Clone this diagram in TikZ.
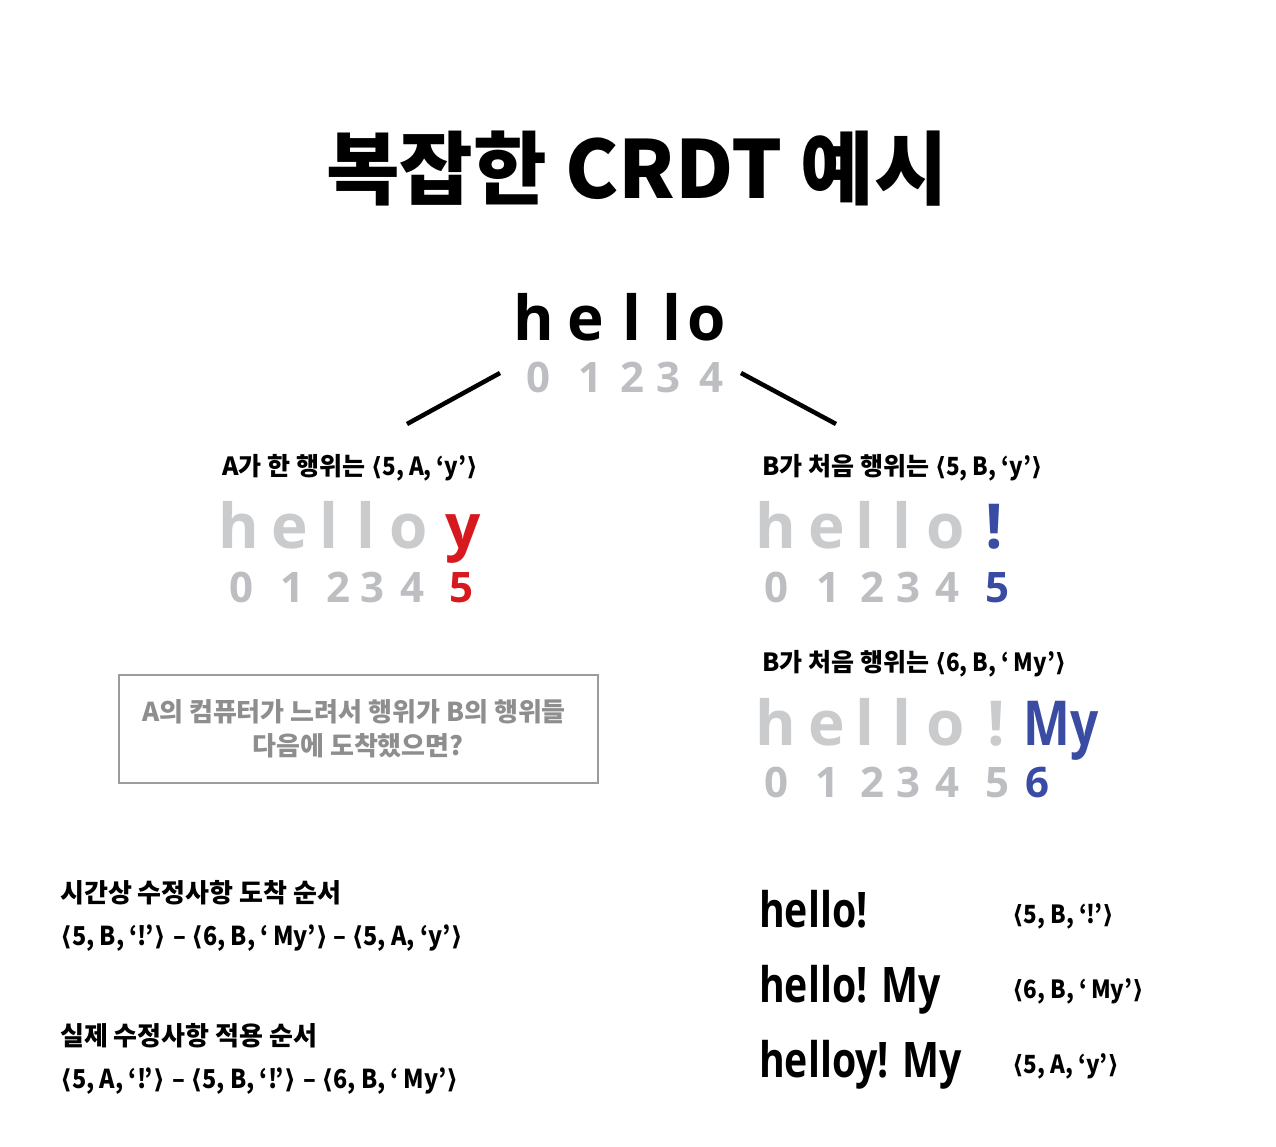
\documentclass[tikz,border=0pt]{standalone}
\usepackage{fontspec}
\newfontfamily\cjk{Noto Sans CJK KR}
\newfontfamily\cjn[FakeStretch=0.9]{Noto Sans CJK KR}
\newfontfamily\lat{Open Sans}
\newfontfamily\latc[FakeStretch=0.8]{Open Sans}
\newfontfamily\djv{DejaVu Sans}
\newcommand\lb{{\djv ⟨}}
\newcommand\rb{{\djv ⟩}}
\newcommand\tup[1]{{\cjn #1}}
\definecolor{lg}{HTML}{CACBCD}
\definecolor{dg}{HTML}{BDBEC1}
\definecolor{rd}{HTML}{D7191F}
\definecolor{bl}{HTML}{3A4BA3}
\definecolor{bxg}{HTML}{9C9C9C}
\definecolor{bxt}{HTML}{8E8E8E}
\tikzset{
  big/.style={font=\lat\bfseries\fontsize{62}{70}\selectfont, anchor=base, inner sep=0},
  dig/.style={font=\lat\bfseries\fontsize{42}{50}\selectfont, anchor=base, inner sep=0, text=dg},
  lbl/.style={font=\cjk\bfseries\fontsize{25}{30}\selectfont, anchor=base west, inner sep=0},
  res/.style={font=\latc\bfseries\fontsize{49}{56}\selectfont, anchor=base west, inner sep=0},
  conn/.style={line width=4.5pt},
}
\begin{document}
\begin{tikzpicture}[x=1pt,y=1pt]
\useasboundingbox[fill=white] (0,0) rectangle (1276,-1146);
% title
\node[font=\cjk\bfseries\fontsize{80}{90}\selectfont, anchor=base, inner sep=0] (title) at (637,-198) {복잡한 CRDT 예시};
% top hello
\foreach \x/\c [count=\i] in {534/h,586/e,632/l,672/l,707/o}
  \node[big] (th\i) at (\x,-340) {\c};
\foreach \x/\c [count=\i] in {538/0,590/1,632/2,668/3,711/4}
  \node[dig] (td\i) at (\x,-392) {\c};
\coordinate (l1) at (500,-373); \coordinate (l2) at (407,-424);
\coordinate (r1) at (741,-373); \coordinate (r2) at (836,-424);
\draw[conn] (l1) -- (l2);
\draw[conn] (r1) -- (r2);
% left branch
\node[lbl] (la) at (222,-475) {A가 한 행위는 \tup{\lb5, A, ‘y’\rb}};
\foreach \x/\c [count=\i] in {239/h,290/e,329/l,366/l,409/o}
  \node[big, text=lg] (ah\i) at (\x,-548) {\c};
\node[big, text=rd] (ay) at (463,-548) {y};
\foreach \x/\c [count=\i] in {241/0,292/1,338/2,372/3,412/4}
  \node[dig] (ad\i) at (\x,-602) {\c};
\node[dig, text=rd] (ad6) at (461,-602) {5};
% right branch 1
\node[lbl] (lb1) at (762,-475) {B가 처음 행위는 \tup{\lb5, B, ‘y’\rb}};
\foreach \x/\c [count=\i] in {776/h,827/e,865/l,902/l,946/o}
  \node[big, text=lg] (bh\i) at (\x,-548) {\c};
\node[big, text=bl] (bex) at (994,-548) {!};
\foreach \x/\c [count=\i] in {776/0,828/1,872/2,908/3,947/4}
  \node[dig] (bd\i) at (\x,-602) {\c};
\node[dig, text=bl] (bd6) at (997,-602) {5};
% right branch 2
\node[lbl] (lb2) at (762,-671) {B가 처음 행위는 \tup{\lb6, B, ‘\,My’\rb}};
\foreach \x/\c [count=\i] in {776/h,827/e,865/l,902/l,946/o,996/!}
  \node[big, text=lg] (ch\i) at (\x,-745) {\c};
\node[big, font=\latc\bfseries\fontsize{62}{70}\selectfont, text=bl] (cmy) at (1061,-745) {My};
\foreach \x/\c [count=\i] in {776/0,827/1,872/2,908/3,947/4,997/5}
  \node[dig] (cd\i) at (\x,-797) {\c};
\node[dig, text=bl] (cd7) at (1037,-797) {6};
% question box
\node[draw=bxg, line width=2pt, minimum width=479pt, minimum height=108pt, inner sep=0] (box) at (358.5,-729) {};
\node[font=\cjk\bfseries\fontsize{26}{33}\selectfont, text=bxt, anchor=base, inner sep=0] (q1) at (354,-721) {A의 컴퓨터가 느려서 행위가 B의 행위들};
\node[font=\cjk\bfseries\fontsize{26}{33}\selectfont, text=bxt, anchor=base, inner sep=0] (q2) at (358,-755) {다음에 도착했으면?};
% bottom left
\node[lbl, font=\cjk\bfseries\fontsize{26}{30}\selectfont] (h1) at (60,-902) {시간상 수정사항 도착 순서};
\node[lbl, font=\cjn\bfseries\fontsize{26}{30}\selectfont] (s1) at (60,-945) {\lb5, B, ‘!’\rb{} – \lb6, B, ‘\,My’\rb{} – \lb5, A, ‘y’\rb};
\node[lbl, font=\cjk\bfseries\fontsize{26}{30}\selectfont] (h2) at (60,-1045) {실제 수정사항 적용 순서};
\node[lbl, font=\cjn\bfseries\fontsize{26}{30}\selectfont] (s2) at (60,-1088) {\lb5, A, ‘!’\rb{} – \lb5, B, ‘!’\rb{} – \lb6, B, ‘\,My’\rb};
% bottom right
\node[res] (r1t) at (759,-927) {hello!};
\node[res] (r2t) at (759,-1002) {hello! My};
\node[res] (r3t) at (759,-1077) {helloy! My};
\node[lbl, font=\cjn\bfseries\fontsize{25}{30}\selectfont] (r1l) at (1012,-923) {\lb5, B, ‘!’\rb};
\node[lbl, font=\cjn\bfseries\fontsize{25}{30}\selectfont] (r2l) at (1012,-998) {\lb6, B, ‘\,My’\rb};
\node[lbl, font=\cjn\bfseries\fontsize{25}{30}\selectfont] (r3l) at (1012,-1073) {\lb5, A, ‘y’\rb};
\end{tikzpicture}
\end{document}
